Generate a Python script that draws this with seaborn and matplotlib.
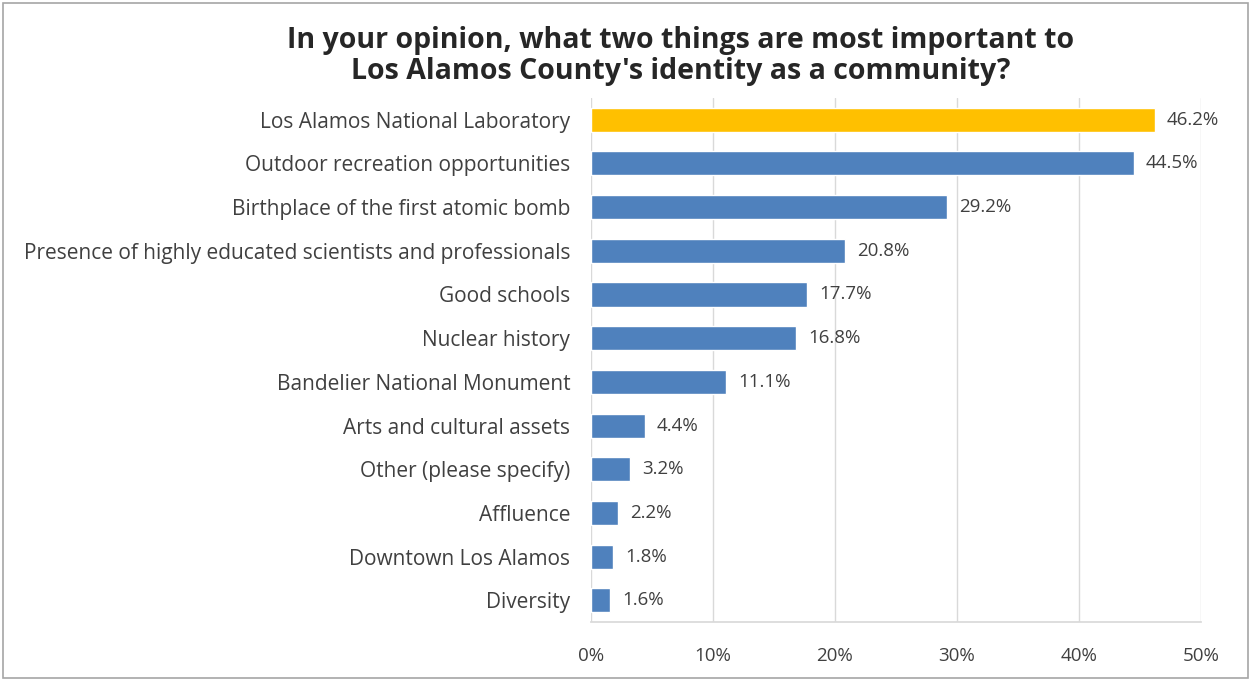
import matplotlib
matplotlib.use("Agg")
import matplotlib.pyplot as plt
import seaborn as sns
import pandas as pd
from matplotlib.patches import Rectangle

categories = [
    "Los Alamos National Laboratory",
    "Outdoor recreation opportunities",
    "Birthplace of the first atomic bomb",
    "Presence of highly educated scientists and professionals",
    "Good schools",
    "Nuclear history",
    "Bandelier National Monument",
    "Arts and cultural assets",
    "Other (please specify)",
    "Affluence",
    "Downtown Los Alamos",
    "Diversity",
]
values = [46.2, 44.5, 29.2, 20.8, 17.7, 16.8, 11.1, 4.4, 3.2, 2.2, 1.8, 1.6]
xticks = [0, 10, 20, 30, 40, 50]
title = "In your opinion, what two things are most important to\nLos Alamos County's identity as a community?"

sns.set_theme(style="white")
plt.rcParams['font.family'] = ['Open Sans', 'DejaVu Sans']

df = pd.DataFrame({"category": categories, "value": values})
colors = ["#FFC000"] + ["#4F81BD"] * (len(categories) - 1)

fig = plt.figure(figsize=(12.51, 6.79), dpi=100)
ax = fig.add_axes([0.4724, 0.0839, 0.4876, 0.7718])

sns.barplot(data=df, y="category", x="value", hue="category", palette=colors,
            legend=False, width=0.55, ax=ax, saturation=1)

ax.set_xlim(0, 50)
ax.set_xticks(xticks)
ax.set_xticklabels([f"{t}%" for t in xticks], fontsize=13.5, color="#404040")
ax.tick_params(axis="y", labelsize=15, labelcolor="#404040", length=0, pad=15)
ax.tick_params(axis="x", length=0, pad=18)
ax.set_xlabel("")
ax.set_ylabel("")
ax.grid(axis="x", color="#D9D9D9", linewidth=1)
ax.set_axisbelow(True)
for s in ["top", "right", "left"]:
    ax.spines[s].set_visible(False)
ax.spines["bottom"].set_color("#D9D9D9")

for i, v in enumerate(values):
    ax.text(v + 1.0, i, f"{v:.1f}%", va="center", ha="left", fontsize=13.5, color="#404040")

fig.text(0.544, 0.918, title, ha="center", va="center", fontsize=20.5, fontweight="bold",
         color="#262626", linespacing=1.08)

fig.patches.append(Rectangle((0.002, 0.002), 0.996, 0.993, transform=fig.transFigure,
                             fill=False, edgecolor="#A6A6A6", linewidth=1.2))

fig.savefig("out.png", dpi=100)
